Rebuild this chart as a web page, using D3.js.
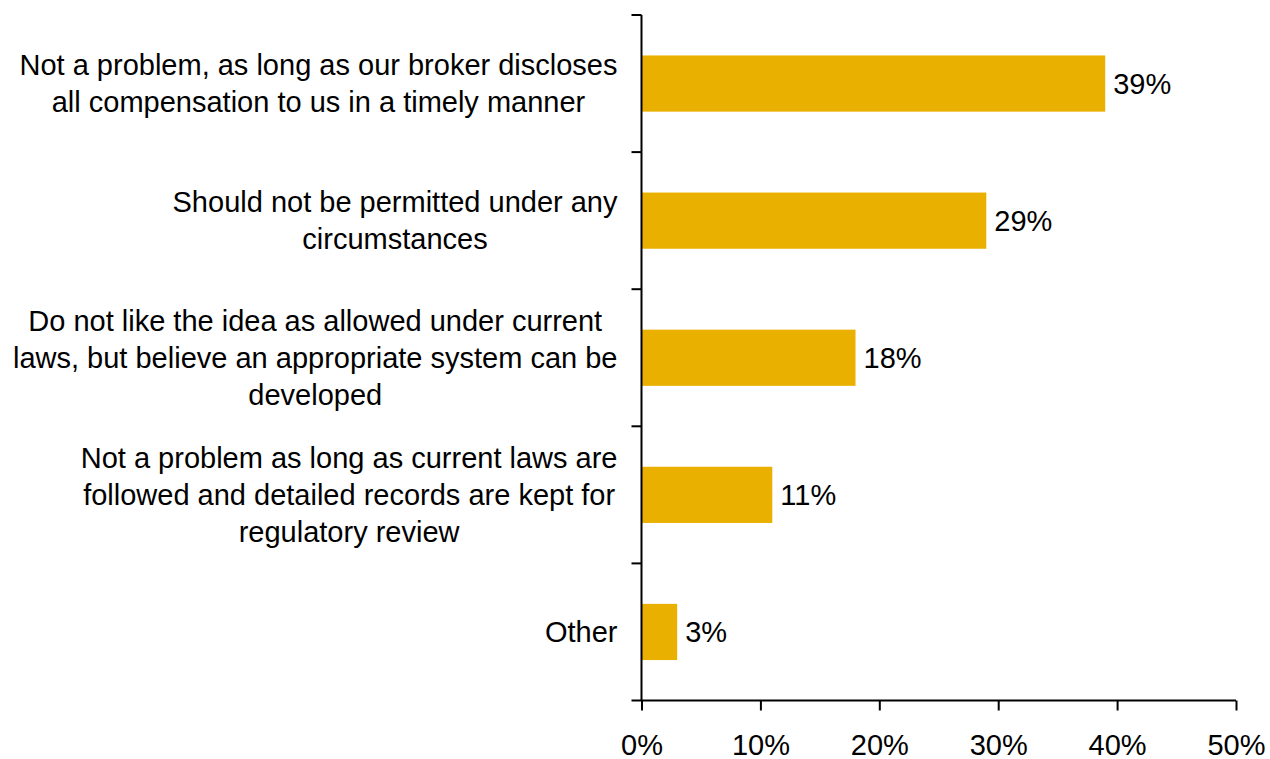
<!DOCTYPE html>
<html>
<head>
<meta charset="utf-8">
<script src="https://cdn.jsdelivr.net/npm/d3@7"></script>
<style>
  html, body { margin: 0; padding: 0; background: #fff; }
  svg { display: block; font-family: "Liberation Sans", Arial, sans-serif; }
</style>
</head>
<body>
<svg id="chart" width="1270" height="759"></svg>
<script>
// Survey responses: opinion on broker compensation arrangements
const categories = [
  "Not a problem, as long as our broker discloses all compensation to us in a timely manner",
  "Should not be permitted under any circumstances",
  "Do not like the idea as allowed under current laws, but believe an appropriate system can be developed",
  "Not a problem as long as current laws are followed and detailed records are kept for regulatory review",
  "Other"
];
const categoryLines = [
  ["Not a problem, as long as our broker discloses", "all compensation to us in a timely manner"],
  ["Should not be permitted under any", "circumstances"],
  ["Do not like the idea as allowed under current", "laws, but believe an appropriate system can be", "developed"],
  ["Not a problem as long as current laws are", "followed and detailed records are kept for", "regulatory review"],
  ["Other"]
];
const values = [39, 29, 18, 11, 3];
const xTicks = [0, 10, 20, 30, 40, 50];

const svg = d3.select("#chart");
const margin = { top: 15, left: 641.5, right: 34, bottom: 58.5 };
const width = 1270, height = 759;

const x = d3.scaleLinear().domain([0, 50]).range([margin.left, width - margin.right]);
const y = d3.scaleBand().domain(categories)
  .range([margin.top, height - margin.bottom])
  .paddingInner(0.59).paddingOuter(0.295);

const fontSize = 29;
const barColor = "#EAB000";

// Bars
svg.append("g").selectAll("rect")
  .data(values)
  .join("rect")
  .attr("x", x(0))
  .attr("y", (d, i) => y(categories[i]))
  .attr("width", d => x(d) - x(0))
  .attr("height", y.bandwidth())
  .attr("fill", barColor);

// Value labels
svg.append("g").selectAll("text")
  .data(values)
  .join("text")
  .attr("x", d => x(d) + 8)
  .attr("y", (d, i) => y(categories[i]) + y.bandwidth() / 2)
  .attr("dy", "0.35em")
  .attr("font-size", fontSize)
  .attr("fill", "#000")
  .text(d => d + "%");

// X axis
const xAxis = d3.axisBottom(x).tickValues(xTicks).tickFormat(d => d + "%")
  .tickSize(10).tickSizeOuter(0);
const gx = svg.append("g")
  .attr("transform", `translate(0,${height - margin.bottom})`)
  .call(xAxis);
gx.select(".domain").remove();
gx.append("line")
  .attr("x1", x(0) - 10).attr("x2", x(50))
  .attr("y1", 0).attr("y2", 0)
  .attr("stroke", "#000").attr("stroke-width", 2);
gx.selectAll(".tick line").attr("stroke", "#000").attr("stroke-width", 2);
gx.selectAll(".tick text")
  .attr("font-size", fontSize)
  .attr("font-family", "Liberation Sans, Arial, sans-serif")
  .attr("fill", "#000")
  .attr("y", 54)
  .attr("dy", 0);

// Y axis: boundary ticks between categories
const yTop = margin.top, yBottom = height - margin.bottom;
const step = y.step();
const boundaries = d3.range(categories.length + 1).map(i => y.range()[0] + i * step);
const gy = svg.append("g");
gy.append("line")
  .attr("x1", x(0)).attr("x2", x(0))
  .attr("y1", yTop).attr("y2", yBottom)
  .attr("stroke", "#000").attr("stroke-width", 2);
gy.selectAll("line.bt")
  .data(boundaries.slice(0, -1))
  .join("line")
  .attr("class", "bt")
  .attr("x1", x(0) - 10).attr("x2", x(0))
  .attr("y1", d => d).attr("y2", d => d)
  .attr("stroke", "#000").attr("stroke-width", 2);

// Category labels: centered multi-line blocks, right edge near the axis
const labelRight = x(0) - 24;
const lineHeight = 37;
const measure = svg.append("text").attr("font-size", fontSize).attr("visibility", "hidden");
categoryLines.forEach((lines, i) => {
  const widths = lines.map(l => { measure.text(l); return measure.node().getComputedTextLength(); });
  const maxW = d3.max(widths);
  const cx = labelRight - maxW / 2;
  const cy = y(categories[i]) + y.bandwidth() / 2;
  const t = svg.append("text")
    .attr("font-size", fontSize)
    .attr("text-anchor", "middle")
    .attr("fill", "#000");
  lines.forEach((l, j) => {
    t.append("tspan")
      .attr("x", cx)
      .attr("y", cy + (j - (lines.length - 1) / 2) * lineHeight)
      .attr("dy", "0.35em")
      .text(l);
  });
});
measure.remove();
</script>
</body>
</html>
